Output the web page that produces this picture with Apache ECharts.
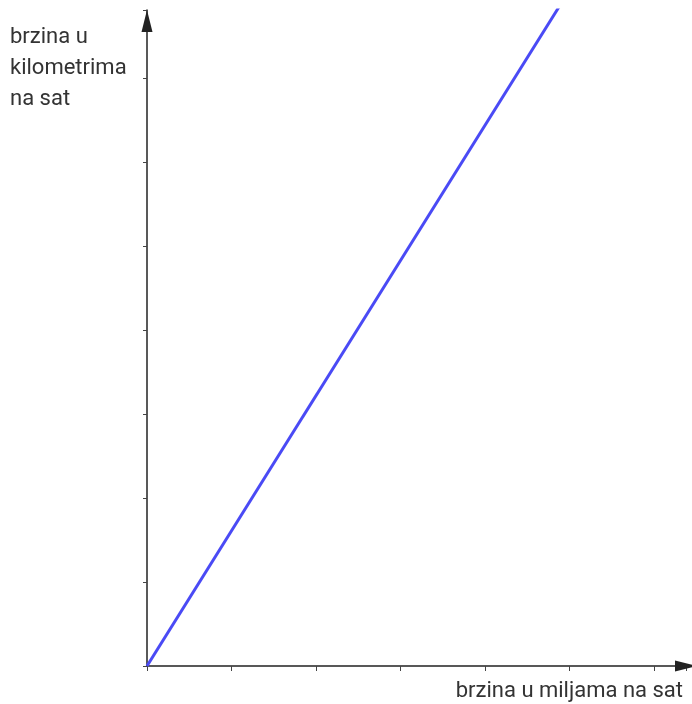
<!DOCTYPE html>
<html><head><meta charset="utf-8">
<script src="https://cdn.jsdelivr.net/npm/echarts@6/dist/echarts.min.js"></script>
<style>html,body{margin:0;padding:0;background:#fff;}#c{width:692px;height:704px;}</style>
</head><body><div id="c"></div>
<script>
const xName = 'brzina u miljama na sat';
const yName = ['brzina u', 'kilometrima', 'na sat'];
const milesValues = [0, 5];
const kmValues = [0, 8.045];
const xMax = 6.38, yMax = 7.81;

const chart = echarts.init(document.getElementById('c'));
const axisCol = '#222';
chart.setOption({
  animation: false,
  grid: { left: 147, top: 10, right: 6, bottom: 38 },
  xAxis: {
    type: 'value', min: 0, max: xMax, interval: 1,
    axisLine: { show: true, lineStyle: { color: axisCol, width: 1.5 }, symbol: ['none', 'triangle'], symbolSize: [11, 22], symbolOffset: [0, 0] },
    axisTick: { show: true, length: 5, lineStyle: { color: '#444', width: 1 } },
    axisLabel: { show: false }, splitLine: { show: false }
  },
  yAxis: {
    type: 'value', min: 0, max: yMax, interval: 1,
    axisLine: { show: true, lineStyle: { color: axisCol, width: 1.5 }, symbol: ['none', 'triangle'], symbolSize: [11, 22], symbolOffset: [0, -11] },
    axisTick: { show: true, length: 4, lineStyle: { color: '#444', width: 1 } },
    axisLabel: { show: false }, splitLine: { show: false }
  },
  series: [{
    type: 'line', showSymbol: false, clip: true,
    data: milesValues.map((m, i) => [m, kmValues[i]]),
    lineStyle: { color: '#4a4af5', width: 3 }
  }],
  graphic: [
    { type: 'text', left: 10, top: 22, style: { text: yName.join('\n'), font: '22px Roboto', lineHeight: 31, fill: '#333' } },
    { type: 'text', right: 9, top: 680, style: { text: xName, font: '22px Roboto', fill: '#333' } }
  ]
});
</script></body></html>
